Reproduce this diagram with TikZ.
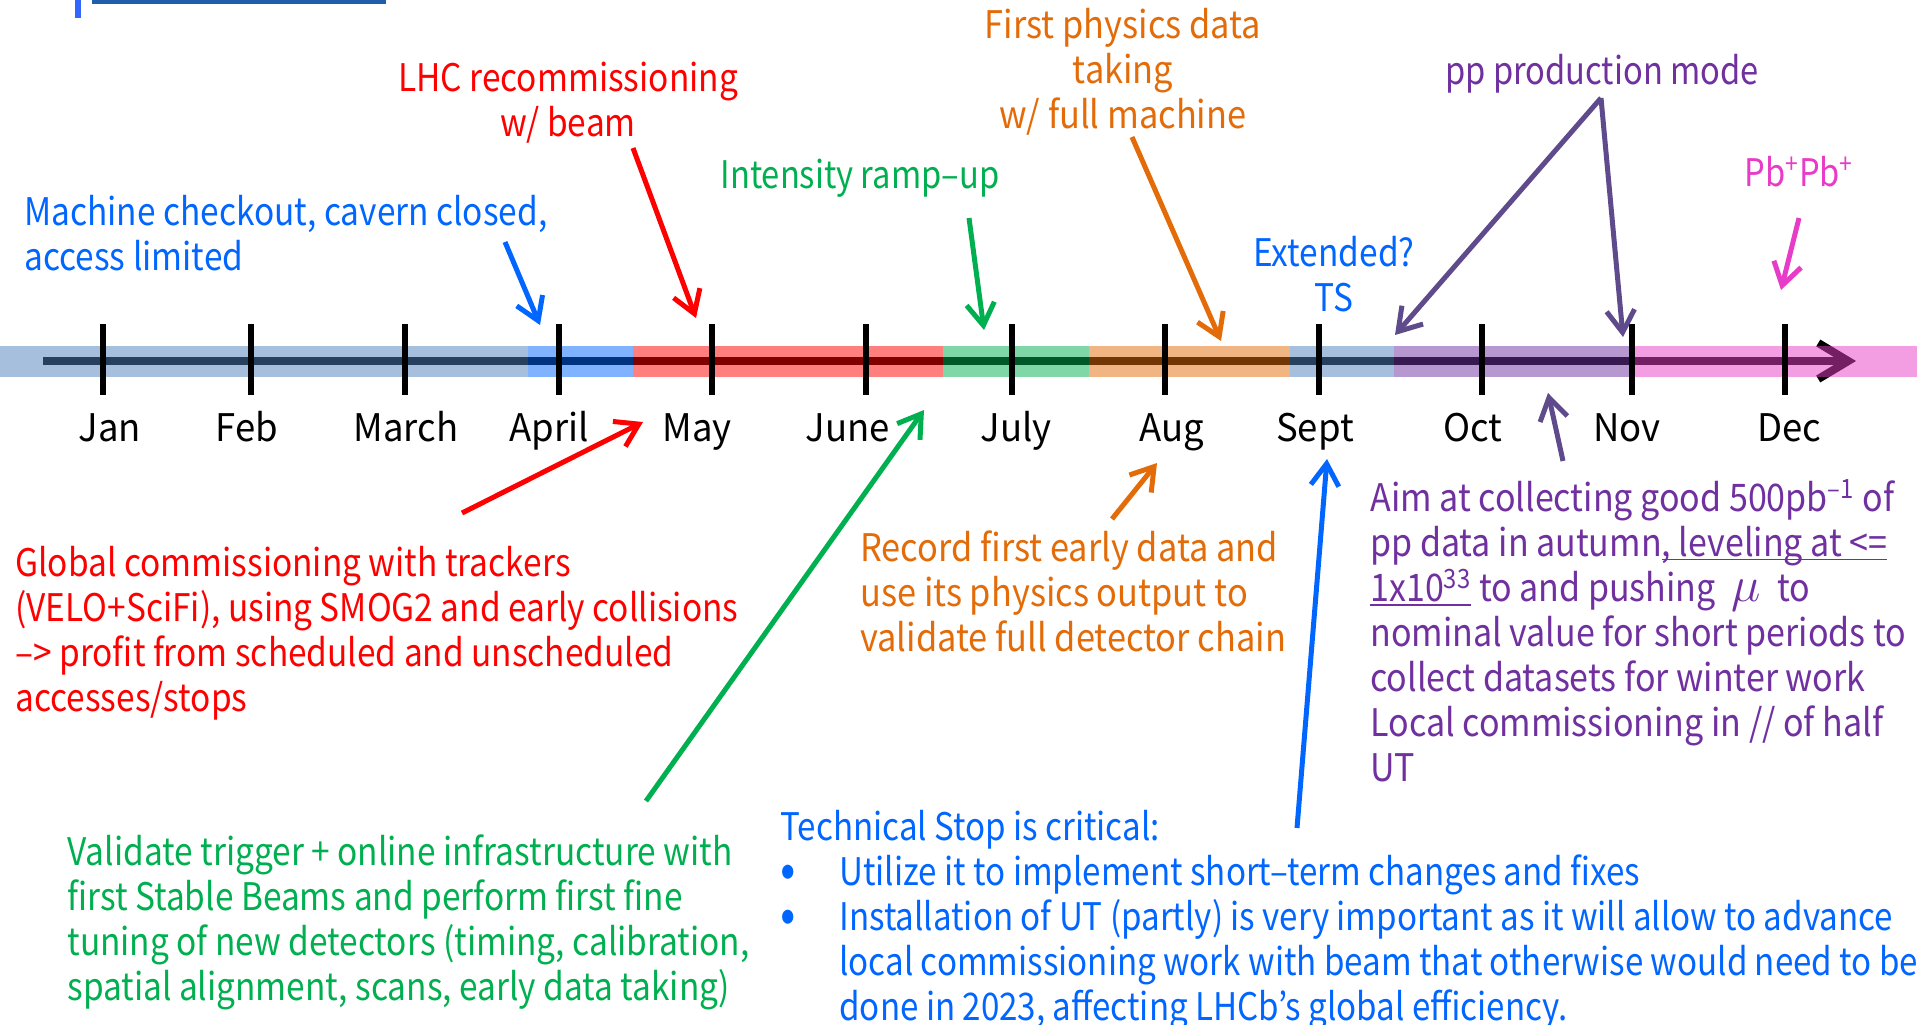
\documentclass[tikz,border=0pt]{standalone}
\usepackage{fontspec}
\setmainfont{Noto Sans CJK JP}
\newfontfamily\fsNa[FakeStretch=0.86]{Noto Sans CJK JP}
\newfontfamily\fsNb[FakeStretch=0.88]{Noto Sans CJK JP}
\newfontfamily\fsNt[FakeStretch=0.872]{Noto Sans CJK JP}
\newfontfamily\fsNp[FakeStretch=0.895]{Noto Sans CJK JP}
\newfontfamily\fsNc[FakeStretch=0.905]{Noto Sans CJK JP}
\newfontfamily\fsNd[FakeStretch=0.96]{Noto Sans CJK JP}
\usetikzlibrary{arrows.meta}
\definecolor{cblue}{HTML}{0066FF}
\definecolor{cred}{HTML}{FF0000}
\definecolor{cgreen}{HTML}{00B050}
\definecolor{corange}{HTML}{E36C09}
\definecolor{cpurple}{HTML}{7030A0}
\definecolor{cparrow}{HTML}{5F4B8B}
\definecolor{cpink}{HTML}{E83CC8}
\definecolor{csteel}{HTML}{4F81BD}
\definecolor{cdkblue}{HTML}{1F5FAA}
\definecolor{cltblue}{HTML}{3366FF}
\newcommand{\plinesL}[1]{\begin{tabular}[t]{@{}l@{}}#1\end{tabular}}
\newcommand{\plinesC}[1]{\begin{tabular}[t]{@{}c@{}}#1\end{tabular}}
\newsavebox{\undbox}
\newcommand{\undlin}[1]{\leavevmode\sbox{\undbox}{#1}\rlap{\rule[-2.2pt]{\wd\undbox}{0.8pt}}\usebox{\undbox}}
\newcommand{\bulitem}{\makebox[29.5pt][l]{\raisebox{-1pt}{\fontsize{26}{22.5}\selectfont •}}}
\begin{document}
\begin{tikzpicture}[x=0.5pt,y=-0.5pt,
  txt/.style={inner sep=0pt, font=\fontsize{19}{22.5}\selectfont},
  lbl/.style={txt, anchor=base west},
  clbl/.style={txt, anchor=base},
  callout/.style={line width=2.5pt, -{Straight Barb[length=11pt,width=14pt]}},
  bandseg/.style={fill opacity=0.5},
  mtick/.style={line width=3pt, black},
  mon/.style={clbl, font=\fontsize{19}{22.5}\fsNd},
]
\fill[white] (0,0) rectangle (1917,1024);
\useasboundingbox (0,0) rectangle (1917,1024);

% top-left fragment
\fill[cltblue] (75,0) rectangle (81,18);
\fill[cdkblue] (92,0) rectangle (386,4);

% main timeline line (under the band)
\coordinate (tlstart) at (43,361);
\coordinate (tlend) at (1856,361);
\draw[line width=4pt, black, -{Straight Barb[length=15pt,width=18pt]}] (tlstart) -- (tlend);

% band
\fill[bandseg, csteel]  (0,346) rectangle (528,377);
\fill[bandseg, cblue]   (528,346) rectangle (633,377);
\fill[bandseg, cred]    (633,346) rectangle (943,377);
\fill[bandseg, cgreen]  (943,346) rectangle (1089,377);
\fill[bandseg, corange] (1089,346) rectangle (1290,377);
\fill[bandseg, csteel]  (1290,346) rectangle (1394,377);
\fill[bandseg, cpurple] (1394,346) rectangle (1632,377);
\fill[bandseg, cpink]   (1632,346) rectangle (1917,377);

% ticks
\foreach \tx in {103,251,405,559,712,866,1012,1165,1319,1482,1632,1785}
  \draw[mtick] (\tx,324) -- (\tx,395);

% month labels
\node[mon] (jan) at (110,441) {Jan};
\node[mon] (feb) at (247,441) {Feb};
\node[mon] (mar) at (406,441) {March};
\node[mon] (apr) at (549,441) {April};
\node[mon] (may) at (697,441) {May};
\node[mon] (jun) at (848,441) {June};
\node[mon] (jul) at (1016,441) {July};
\node[mon] (aug) at (1172,441) {Aug};
\node[mon] (sep) at (1315,441) {Sept};
\node[mon] (oct) at (1473,441) {Oct};
\node[mon] (nov) at (1627,441) {Nov};
\node[mon] (dec) at (1789,441) {Dec};

% upper labels
\node[lbl, text=cblue] (mach) at (24,225) {\fsNb\plinesL{Machine checkout, cavern closed,\\ access limited}};
\node[clbl, text=cred] (lhc) at (568,91) {\fsNb\plinesC{LHC recommissioning\\ w/ beam}};
\node[clbl, text=corange] (first) at (1123,38) {\fsNc\plinesC{First physics data\\ taking\\ w/ full machine}};
\node[clbl, text=cgreen] (inten) at (860,188) {\fsNa Intensity ramp–up};
\node[clbl, text=cblue] (ext) at (1334,266) {\fsNb\plinesC{Extended?\\ TS}};
\node[clbl, text=cpurple] (pp) at (1602,84) {\fsNa pp production mode};
\node[clbl, text=cpink] (pb) at (1799,186) {\fsNa Pb\textsuperscript{+}Pb\textsuperscript{+}};

% lower paragraphs
\node[lbl, text=cred] (glob) at (15,576) {\fsNb\plinesL{Global commissioning with trackers\\
(VELO+SciFi), using SMOG2 and early collisions\\
–> profit from scheduled and unscheduled\\
accesses/stops}};
\node[lbl, text=corange] (rec) at (860,561) {\fsNc\plinesL{Record first early data and\\
use its physics output to\\
validate full detector chain}};
\node[lbl, text=cgreen] (vali) at (67,865) {\fsNb\plinesL{Validate trigger + online infrastructure with\\
first Stable Beams and perform first fine\\
tuning of new detectors (timing, calibration,\\
spatial alignment, scans, early data taking)}};
\node[lbl, text=cblue] (tech) at (780,840) {\fsNt\plinesL{Technical Stop is critical:\\
\bulitem Utilize it to implement short–term changes and fixes\\
\bulitem Installation of UT (partly) is very important as it will allow to advance\\
\hspace*{29.5pt}local commissioning work with beam that otherwise would need to be\\
\hspace*{29.5pt}done in 2023, affecting LHCb’s global efficiency.}};
\node[lbl, text=cpurple] (aim) at (1370,511) {\fsNp\plinesL{Aim at collecting good 500pb\textsuperscript{–1} of\\
pp data in autumn\undlin{, leveling at <=}\\
\undlin{1x10\textsuperscript{33}} to and pushing\hspace{8pt}{\fontsize{23}{22.5}\selectfont$\mu$}\hspace{8pt}to\\
nominal value for short periods to\\
collect datasets for winter work\\
Local commissioning in // of half\\
UT}};

% arrow end points
\coordinate (a1s) at (505,242);   \coordinate (a1e) at (540,325);
\coordinate (a2s) at (633,148);   \coordinate (a2e) at (696,318);
\coordinate (a3s) at (969,218);   \coordinate (a3e) at (984,330);
\coordinate (a4s) at (1132,137);  \coordinate (a4e) at (1221,341);
\coordinate (a5s) at (1601,98);   \coordinate (a5e) at (1395,335);
                                  \coordinate (a6e) at (1623,337);
\coordinate (a7s) at (1799,218);  \coordinate (a7e) at (1781,290);
\coordinate (b1s) at (462,513);   \coordinate (b1e) at (643,422);
\coordinate (b2s) at (646,801);   \coordinate (b2e) at (924,410);
\coordinate (b3s) at (1112,519);  \coordinate (b3e) at (1157,463);
\coordinate (b4s) at (1297,828);  \coordinate (b4e) at (1327,459);
\coordinate (b5s) at (1563,461);  \coordinate (b5e) at (1548,393);

\draw[callout, cblue]   (a1s) -- (a1e);
\draw[callout, cred]    (a2s) -- (a2e);
\draw[callout, cgreen]  (a3s) -- (a3e);
\draw[callout, corange] (a4s) -- (a4e);
\draw[callout, cparrow] (a5s) -- (a5e);
\draw[callout, cparrow] (a5s) -- (a6e);
\draw[callout, cpink]   (a7s) -- (a7e);
\draw[callout, cred]    (b1s) -- (b1e);
\draw[callout, cgreen]  (b2s) -- (b2e);
\draw[callout, corange] (b3s) -- (b3e);
\draw[callout, cblue]   (b4s) -- (b4e);
\draw[callout, cparrow] (b5s) -- (b5e);
\end{tikzpicture}
\end{document}
